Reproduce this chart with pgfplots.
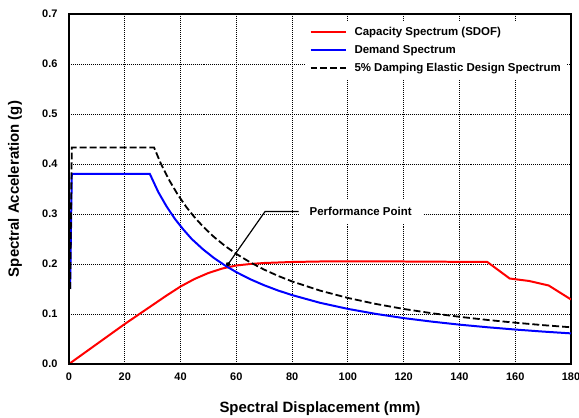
\documentclass[border=0pt]{standalone}
\usepackage{fontspec}
\setmainfont{Liberation Sans}
\usepackage{pgfplots}
\pgfplotsset{compat=1.18}
\usetikzlibrary{arrows.meta}
\begin{document}
\begin{tikzpicture}
\begin{axis}[
  name=ax,
  scale only axis, width=502bp, height=350bp,
  xmin=0, xmax=180, ymin=0, ymax=0.7,
  xtick={0,20,...,180}, ytick={0,0.1,...,0.7},
  /pgf/number format/assume math mode=true,
  ticklabel style={font=\fontsize{11}{12}\selectfont\bfseries},
  xticklabel style={yshift=-5bp},
  yticklabel style={xshift=-8bp, /pgf/number format/fixed, /pgf/number format/fixed zerofill, /pgf/number format/precision=1},
  major tick length=0pt,
  grid=major,
  major grid style={black, line width=0.8pt, dash pattern=on 1pt off 1pt},
  axis line style={black, line width=1.3pt},
  xlabel={Spectral Displacement (mm)},
  ylabel={Spectral Acceleration (g)},
  label style={font=\fontsize{15}{17}\selectfont\bfseries},
  xlabel style={at={(axis description cs:0.5,-0.1286)}, anchor=center},
  ylabel style={at={(axis description cs:-0.1076,0.5)}, anchor=center},
  legend style={at={(0.992,0.98)}, anchor=north east, draw=none, fill=white,
    font=\fontsize{11.5}{13}\selectfont\bfseries, row sep=4bp,
    inner xsep=4bp, inner ysep=4bp},
  legend cell align=left,
  legend image code/.code={\draw[#1] (0bp,0bp) -- (35bp,0bp); \path (41bp,0bp);},
]
\addplot[red, line width=2pt] coordinates {
(0,0) (10,0.04) (20,0.08) (30,0.118) (35,0.137) (40,0.155) (45,0.170) (50,0.182)
(55,0.191) (60,0.197) (65,0.200) (70,0.202) (80,0.204) (90,0.205) (120,0.205)
(150,0.204) (158,0.171) (165,0.166) (172,0.157) (180,0.129)};
\addlegendentry{Capacity Spectrum (SDOF)}
\addplot[blue, line width=2pt] coordinates {
(0.4,0.15) (1.0,0.380) (29,0.380) (32,0.344) (35,0.315) (38,0.290) (41,0.269)
(44,0.250) (48,0.2296) (52,0.2119) (56,0.1968) (60,0.1837) (65,0.1695) (70,0.1574)
(75,0.1469) (80,0.1378) (90,0.1224) (100,0.1102) (110,0.1002) (120,0.0918)
(130,0.0848) (140,0.0787) (150,0.0735) (160,0.0689) (170,0.0648) (180,0.0612)};
\addlegendentry{Demand Spectrum}
\addplot[black, line width=1.8pt, dash pattern=on 7pt off 3pt] coordinates {
(0.4,0.15) (1,0.433) (30.5,0.433) (33,0.400) (36,0.367) (39,0.3387) (42,0.3145)
(45,0.2936) (48,0.2752) (52,0.2540) (56,0.2359) (60,0.2202) (65,0.2032) (70,0.1887)
(75,0.1761) (80,0.1651) (90,0.1468) (100,0.1321) (110,0.1201) (120,0.1101)
(130,0.1016) (140,0.0944) (150,0.0881) (160,0.0826) (170,0.0777) (180,0.0734)};
\addlegendentry{5\% Damping Elastic Design Spectrum}
\node[fill=white, font=\fontsize{11.5}{13}\selectfont\bfseries, inner xsep=11bp, inner ysep=7bp, anchor=west]
  at (axis cs:82.3,0.305) {Performance Point};
\draw[black, line width=1.2pt, -{Circle[length=4.5bp]}] (axis cs:82.3,0.305) -- (axis cs:70.3,0.305) -- (axis cs:56.6,0.196);
\draw[black, line width=1.8pt] (axis cs:0,0) -- (axis cs:0,0.7);
\draw[black, line width=1.8pt] (axis cs:0,0) -- (axis cs:180,0);
\end{axis}
\pgfresetboundingbox
\path[use as bounding box] ([shift={(-69bp,-54bp)}]ax.south west) rectangle ([shift={(8bp,14bp)}]ax.north east);
\end{tikzpicture}
\end{document}
